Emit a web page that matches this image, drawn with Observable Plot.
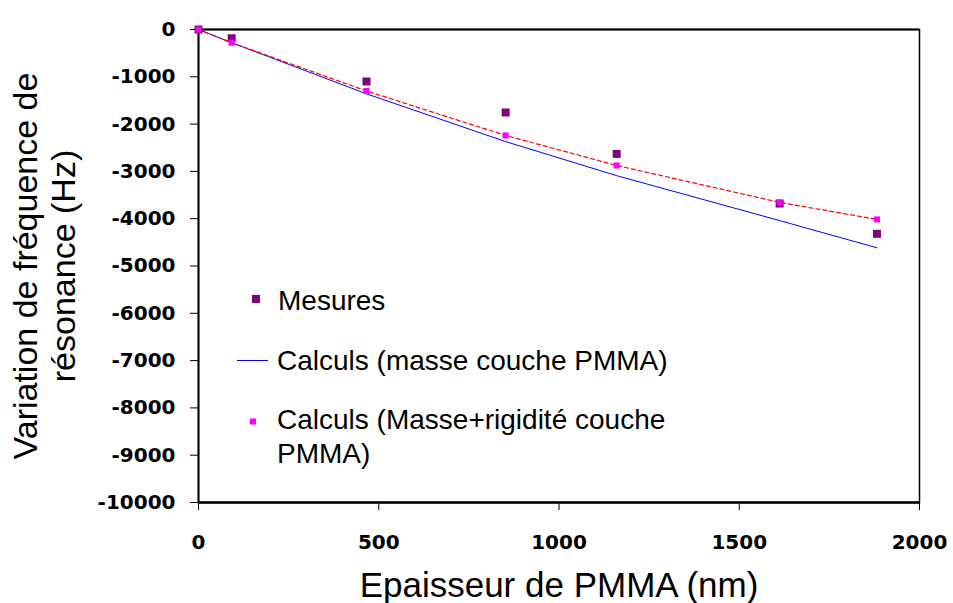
<!DOCTYPE html>
<html>
<head>
<meta charset="utf-8">
<script src="https://cdn.jsdelivr.net/npm/d3@7"></script>
<script src="https://cdn.jsdelivr.net/npm/@observablehq/plot@0.6"></script>
<style>
  html, body { margin: 0; padding: 0; background: #fff; }
  #chart { position: relative; width: 953px; height: 603px; }
</style>
</head>
<body>
<div id="chart"></div>
<script>
// Data
const thickness   = [0, 92, 466, 852, 1160, 1612, 1882];          // nm
const mesures     = [0, -185, -1100, -1755, -2630, -3680, -4320]; // Hz
const calcMasse   = [0, -280, -1360, -2370, -3090, -4040, -4615]; // Hz
const calcRigid   = [0, -280, -1300, -2240, -2875, -3655, -4015]; // Hz
const xTicks = [0, 500, 1000, 1500, 2000];
const yTicks = [0, -1000, -2000, -3000, -4000, -5000, -6000, -7000, -8000, -9000, -10000];
const xTitle = "Epaisseur de PMMA (nm)";
const yTitle1 = "Variation de fréquence de";
const yTitle2 = "résonance (Hz)";
const legendLabels = ["Mesures", "Calculs (masse couche PMMA)", "Calculs (Masse+rigidité couche", "PMMA)"];

const rows = thickness.map((t, i) => ({t, mes: mesures[i], masse: calcMasse[i], rig: calcRigid[i]}));

const titleFont = "Liberation Sans, Arial, sans-serif";
const tickFont = "DejaVu Sans, sans-serif";

const chart = Plot.plot({
  width: 953,
  height: 603,
  marginLeft: 198,
  marginRight: 34,
  marginTop: 29,
  marginBottom: 101,
  style: {background: "#fff", color: "#000"},
  x: {domain: [0, 2000]},
  y: {domain: [-10000, 0]},
  marks: [
    Plot.frame({stroke: "#000", strokeWidth: 1.5}),
    Plot.ruleY([-10000], {stroke: "#000", strokeWidth: 2.5}),
    Plot.ruleY([0], {stroke: "#000", strokeWidth: 1.8}),
    Plot.ruleX([0], {stroke: "#000", strokeWidth: 1.8}),
    Plot.axisX({ticks: xTicks, tickSize: 8, tickPadding: 24, tickFormat: d => String(d),
      fontSize: 20, fontWeight: "bold", fontFamily: tickFont, label: null}),
    Plot.axisY({ticks: yTicks, tickSize: 8, tickPadding: 15, tickFormat: d => String(d),
      fontSize: 20, fontWeight: "bold", fontFamily: tickFont, label: null}),
    Plot.line(rows, {x: "t", y: "masse", stroke: "#0000ff", strokeWidth: 1}),
    Plot.line(rows, {x: "t", y: "rig", stroke: "#ff0000", strokeWidth: 1.2, strokeDasharray: "4,3"}),
    Plot.dot(rows, {x: "t", y: "mes", symbol: "square", r: 4.5, fill: "#800080", stroke: "none"}),
    Plot.dot(rows, {x: "t", y: "rig", symbol: "square", r: 3.4, fill: "#ff00ff", stroke: "none"}),
    Plot.text([xTitle], {text: d => d, frameAnchor: "bottom", textAnchor: "middle", lineAnchor: "middle",
      dy: 83, fontSize: 35, fontFamily: titleFont}),
    Plot.text([yTitle1], {text: d => d, frameAnchor: "left", textAnchor: "middle", lineAnchor: "middle",
      dx: -172, rotate: -90, fontSize: 34, fontFamily: titleFont}),
    Plot.text([yTitle2], {text: d => d, frameAnchor: "left", textAnchor: "middle", lineAnchor: "middle",
      dx: -134, rotate: -90, fontSize: 34, fontFamily: titleFont})
  ]
});

document.getElementById("chart").appendChild(chart);

// Legend (inside the plot area)
const svg = d3.select(chart.tagName.toLowerCase() === "svg" ? chart : chart.querySelector("svg"));
const lg = svg.append("g").attr("font-family", titleFont).attr("font-size", 28)
  .attr("fill", "#000").attr("text-anchor", "start");
lg.append("rect").attr("x", 252).attr("y", 295).attr("width", 8).attr("height", 8).attr("fill", "#800080");
lg.append("text").attr("x", 278).attr("y", 310).text(legendLabels[0]);
lg.append("line").attr("x1", 237).attr("x2", 268).attr("y1", 360.5).attr("y2", 360.5).attr("stroke", "#0000ff").attr("stroke-width", 1);
lg.append("text").attr("x", 277).attr("y", 370).text(legendLabels[1]);
lg.append("rect").attr("x", 250).attr("y", 418.5).attr("width", 6).attr("height", 6).attr("fill", "#ff00ff");
lg.append("text").attr("x", 277).attr("y", 429).text(legendLabels[2]);
lg.append("text").attr("x", 277).attr("y", 463).text(legendLabels[3]);
</script>
</body>
</html>
